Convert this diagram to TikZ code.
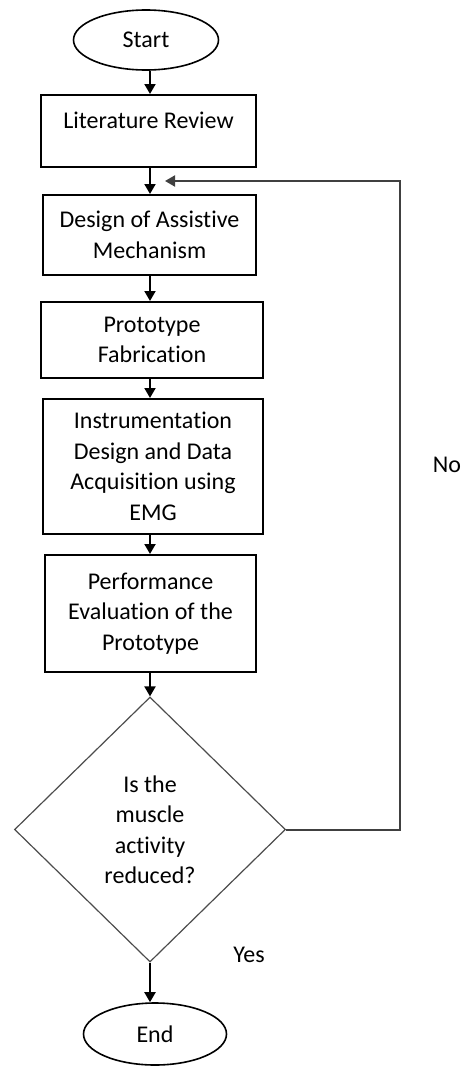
\documentclass[tikz,border=0pt]{standalone}
\usepackage{fontspec}
\setmainfont{Carlito}[Ligatures=NoCommon]
\usetikzlibrary{shapes.geometric,arrows.meta}

\begin{document}
\begin{tikzpicture}[x=0.5pt,y=-0.5pt,font=\fontsize{12}{15.25}\selectfont,
    process/.style={draw,line width=1pt,align=center,inner sep=0pt},
    terminal/.style={draw,ellipse,line width=0.8pt,inner sep=0pt},
    decision/.style={draw=black!70,diamond,line width=0.6pt,align=center,inner sep=0pt},
    flow/.style={line width=1pt,-{Triangle[length=5pt,width=5.5pt]}}]
      \useasboundingbox (0,0) rectangle (464,1066);
      \node[terminal,minimum width=72.5pt,minimum height=30pt] (start) at (146,40) {Start};
      \node[process,minimum width=107.5pt,minimum height=36pt] (lit) at (148.5,131) {Literature Review\\[-4pt] ~};
      \node[process,minimum width=106.5pt,minimum height=40pt] (design) at (149.5,235) {Design of Assistive\\Mechanism};
      \node[process,minimum width=111pt,minimum height=38pt] (proto) at (152,340) {Prototype\\Fabrication};
      \node[process,minimum width=110pt,minimum height=67.5pt] (instr) at (153,466.5) {Instrumentation\\Design and Data\\Acquisition using\\EMG};
      \node[process,minimum width=105.5pt,minimum height=58.5pt] (perf) at (150.5,613.5) {Performance\\Evaluation of the\\Prototype};
      \node[decision,minimum width=135.5pt,minimum height=132.5pt] (dec) at (150,829.5) {Is the\\muscle\\activity\\reduced?};
      \node[terminal,minimum width=71.5pt,minimum height=31pt] (stop) at (155,1034) {End};
      \node (no) at (447,465) {No};
      \node (yes) at (249,955) {Yes};
      \coordinate (turn) at (400,181);
      \coordinate (back) at (165,181);
      % main flow
      \draw[flow] (start.south -| dec) -- (lit.north -| dec);
      \draw[flow] (lit.south -| dec) -- (design.north -| dec);
      \draw[flow] (design.south -| dec) -- (proto.north -| dec);
      \draw[flow] (proto.south -| dec) -- (instr.north -| dec);
      \draw[flow] (instr.south -| dec) -- (perf.north -| dec);
      \draw[flow] (perf.south -| dec) -- (dec.north);
      \draw[flow] (dec.south) -- (stop.north -| dec);
      % loop back
      \draw[flow,draw=black!75] (dec.east) -| (turn) -- (back);
\end{tikzpicture}
\end{document}
